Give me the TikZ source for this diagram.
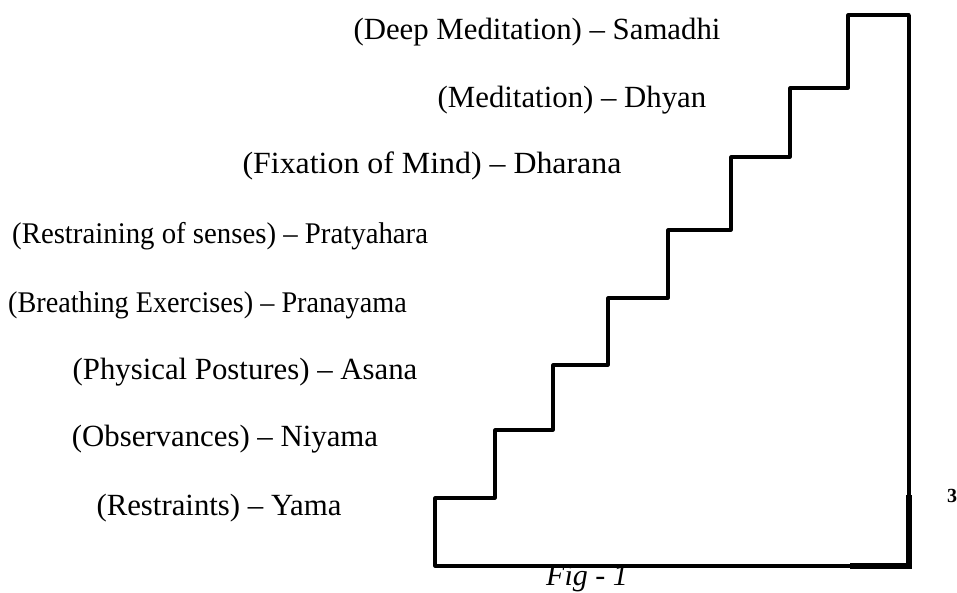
\documentclass[tikz,border=0pt]{standalone}
\usepackage{fontspec}
\setmainfont{Liberation Serif}
\begin{document}
\begin{tikzpicture}[x=1pt,y=-1pt,
  lbl/.style={inner sep=0pt,anchor=base,font=\fontsize{30.8}{36}\selectfont},
  lblw/.style={inner sep=0pt,anchor=base west,font=\fontsize{30}{36}\selectfont},
  stair/.style={line width=3.2pt,line join=round,line cap=round},
  wall/.style={line width=4.2pt,line join=miter},
  thick wall/.style={line width=5.4pt,line join=miter}]
\useasboundingbox (0,0) rectangle (957,592);
% staircase corner coordinates
\coordinate (b0) at (435,566);
\coordinate (s1) at (435,498);
\coordinate (s1r) at (495,498);
\coordinate (s2) at (495,430);
\coordinate (s2r) at (553,430);
\coordinate (s3) at (553,365);
\coordinate (s3r) at (608,365);
\coordinate (s4) at (608,298);
\coordinate (s4r) at (668,298);
\coordinate (s5) at (668,230);
\coordinate (s5r) at (731,230);
\coordinate (s6) at (731,157);
\coordinate (s6r) at (790,157);
\coordinate (s7) at (790,88);
\coordinate (s7r) at (848,88);
\coordinate (s8) at (848,15);
\coordinate (top) at (909,15);
\coordinate (mid) at (909,495);
\coordinate (corner) at (909,566);
\coordinate (bm) at (850,566);
% stairs
\draw[stair] (bm) -- (b0) -- (s1) -- (s1r) -- (s2) -- (s2r) -- (s3) -- (s3r) -- (s4) -- (s4r)
  -- (s5) -- (s5r) -- (s6) -- (s6r) -- (s7) -- (s7r) -- (s8) -- (top);
\draw[wall] (top) -- (mid);
\draw[thick wall] (mid) -- (corner) -- (bm);
% labels
\node[lbl] (samadhi) at (537,39) {(Deep Meditation) – Samadhi};
\node[lbl] (dhyan) at (572,107) {(Meditation) – Dhyan};
\node[lbl] (dharana) at (432,173) {\scalebox{1.035}[1]{(Fixation of Mind) – Dharana}};
\node[lblw] (pratyahara) at (12,243) {\scalebox{0.96}[1]{(Restraining of senses) – Pratyahara}};
\node[lblw] (pranayama) at (8,312) {\scalebox{0.94}[1]{(Breathing Exercises) – Pranayama}};
\node[lbl] (asana) at (245,379) {(Physical Postures) – Asana};
\node[lbl] (niyama) at (225,446) {(Observances) – Niyama};
\node[lbl] (yama) at (219,515) {(Restraints) – Yama};
\node[lbl,font=\fontsize{30}{36}\selectfont\itshape] (fig) at (587,585) {Fig - 1};
\node[inner sep=0pt,anchor=base,font=\fontsize{20}{24}\selectfont\bfseries] (pg) at (952,502) {3};
\end{tikzpicture}
\end{document}
